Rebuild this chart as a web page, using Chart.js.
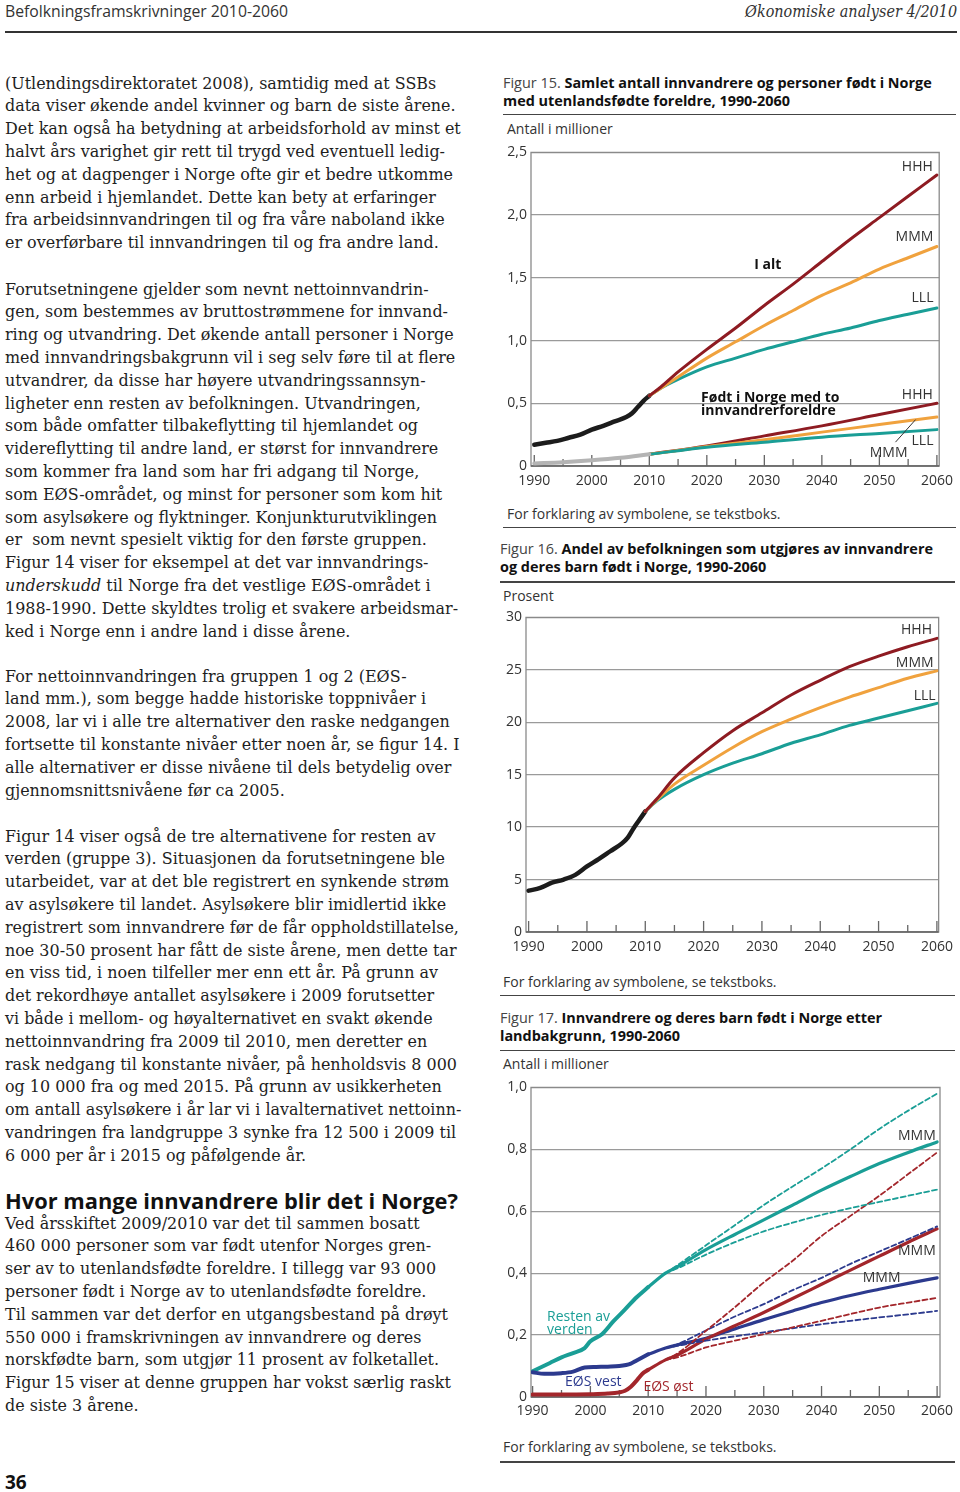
<!DOCTYPE html>
<html>
<head>
<meta charset="utf-8">
<script src="https://cdn.jsdelivr.net/npm/chart.js@4.4.1/dist/chart.umd.min.js"></script>
<style>
  body { margin: 0; width: 960px; height: 1492px; position: relative; background: #fff; overflow: hidden; }
  .t { position: absolute; white-space: nowrap; }
  .rule { position: absolute; background: #444; }
  canvas { position: absolute; }
  b { font-weight: bold; }
</style>
</head>
<body>
<canvas id="fig15" width="460" height="360" style="left:500px;top:140px"></canvas>
<canvas id="fig16" width="465" height="360" style="left:495px;top:605px"></canvas>
<canvas id="fig17" width="465" height="360" style="left:495px;top:1075px"></canvas>
<script>
// ---- Figur 15: antall i millioner ----
const f15HistYears = [1990, 1992, 1994, 1996, 1998, 2000, 2002, 2004, 2006, 2007, 2008, 2009, 2010];
const f15Total = [0.17, 0.185, 0.20, 0.225, 0.25, 0.29, 0.32, 0.355, 0.39, 0.42, 0.47, 0.52, 0.56];
const f15BornYears = [1990, 1995, 2000, 2005, 2010];
const f15Born = [0.02, 0.03, 0.045, 0.065, 0.093];
const f15ProjYears = [2010, 2012, 2015, 2020, 2025, 2030, 2035, 2040, 2045, 2050, 2055, 2060];
const f15TotalHHH = [0.56, 0.63, 0.75, 0.93, 1.10, 1.28, 1.45, 1.63, 1.81, 1.98, 2.15, 2.32];
const f15TotalMMM = [0.56, 0.62, 0.71, 0.86, 0.99, 1.12, 1.24, 1.36, 1.46, 1.57, 1.66, 1.75];
const f15TotalLLL = [0.56, 0.62, 0.69, 0.79, 0.86, 0.93, 0.99, 1.05, 1.10, 1.16, 1.21, 1.26];
const f15BornProjYears = [2010, 2020, 2030, 2040, 2050, 2060];
const f15BornHHH = [0.093, 0.16, 0.24, 0.32, 0.41, 0.50];
const f15BornMMM = [0.093, 0.155, 0.21, 0.27, 0.33, 0.39];
const f15BornLLL = [0.093, 0.15, 0.19, 0.23, 0.26, 0.29];
const f15Ticks = [0, 0.5, 1.0, 1.5, 2.0, 2.5];

// ---- Figur 16: prosent ----
const f16HistYears = [1990, 1992, 1994, 1996, 1998, 2000, 2002, 2004, 2006, 2007, 2008, 2009, 2010];
const f16Hist = [3.94, 4.2, 4.7, 5.0, 5.45, 6.25, 6.95, 7.7, 8.45, 9.0, 9.9, 10.7, 11.5];
const f16ProjYears = [2010, 2012, 2015, 2020, 2025, 2030, 2035, 2040, 2045, 2050, 2055, 2060];
const f16HHH = [11.5, 12.7, 14.7, 17.1, 19.2, 20.9, 22.6, 24.0, 25.3, 26.3, 27.2, 28.0];
const f16MMM = [11.5, 12.6, 14.1, 15.9, 17.6, 19.1, 20.3, 21.4, 22.4, 23.3, 24.2, 24.9];
const f16LLL = [11.5, 12.5, 13.6, 15.0, 16.1, 17.0, 18.0, 18.8, 19.7, 20.4, 21.1, 21.8];
const f16Ticks = [0, 5, 10, 15, 20, 25, 30];

// ---- Figur 17: antall i millioner etter landbakgrunn ----
const f17RestYears = [1990, 1993, 1995, 1997, 1999, 2000, 2002, 2004, 2006, 2008, 2010];
const f17Rest = [0.083, 0.11, 0.128, 0.142, 0.158, 0.18, 0.203, 0.245, 0.283, 0.322, 0.355];
const f17VestYears = [1990, 1992, 1995, 1997, 1999, 2001, 2003, 2005, 2007, 2008, 2010];
const f17Vest = [0.08, 0.075, 0.077, 0.082, 0.095, 0.097, 0.098, 0.10, 0.108, 0.118, 0.138];
const f17OstYears = [1990, 1995, 2000, 2003, 2005, 2006, 2007, 2008, 2009, 2010];
const f17Ost = [0.008, 0.008, 0.009, 0.011, 0.015, 0.02, 0.033, 0.053, 0.075, 0.088];
const f17MidYears = [2010, 2013, 2015, 2020, 2025, 2030, 2035, 2040, 2045, 2050, 2055, 2060];
const f17RestMMM = [0.355, 0.40, 0.42, 0.476, 0.525, 0.572, 0.62, 0.668, 0.712, 0.754, 0.79, 0.824];
const f17VestMMM = [0.138, 0.158, 0.168, 0.19, 0.22, 0.25, 0.278, 0.305, 0.328, 0.348, 0.367, 0.385];
const f17OstMMM = [0.088, 0.12, 0.135, 0.187, 0.23, 0.273, 0.318, 0.364, 0.41, 0.455, 0.50, 0.543];
const f17AltYears = [2013, 2015, 2020, 2025, 2030, 2035, 2040, 2045, 2050, 2055, 2060];
const f17RestHHH = [0.40, 0.425, 0.49, 0.555, 0.62, 0.68, 0.738, 0.80, 0.866, 0.925, 0.98];
const f17RestLLL = [0.40, 0.415, 0.46, 0.50, 0.535, 0.563, 0.588, 0.61, 0.63, 0.65, 0.67];
const f17VestHHH = [0.158, 0.17, 0.215, 0.26, 0.30, 0.345, 0.385, 0.43, 0.47, 0.51, 0.551];
const f17VestLLL = [0.158, 0.165, 0.182, 0.196, 0.209, 0.222, 0.235, 0.246, 0.257, 0.267, 0.278];
const f17OstHHH = [0.12, 0.14, 0.214, 0.29, 0.37, 0.44, 0.52, 0.585, 0.65, 0.72, 0.79];
const f17OstLLL = [0.12, 0.128, 0.16, 0.182, 0.203, 0.225, 0.246, 0.268, 0.289, 0.305, 0.32];
const f17Ticks = [0, 0.2, 0.4, 0.6, 0.8, 1.0];

const xYears = [1990, 2000, 2010, 2020, 2030, 2040, 2050, 2060];
const xMinorYears = [1995, 2005, 2015, 2025, 2035, 2045, 2055];

const RED = '#8e1b22', ORANGE = '#f0a23e', TEAL = '#1a9e96', BLACK = '#1c1c1c', GREY = '#b4b4b4';
const RED17 = '#a3262b', BLUE = '#2c3a8e';
const SANS = '"Open Sans", "Noto Sans", sans-serif';

Chart.defaults.font.family = SANS;
Chart.defaults.font.size = 14;
Chart.defaults.color = '#333';
Chart.defaults.devicePixelRatio = 1;

function xy(xs, ys) { return xs.map((x, i) => ({ x: x, y: ys[i] })); }
function line(xs, ys, color, width, dash) {
  return {
    data: xy(xs, ys), borderColor: color, borderWidth: width, borderDash: dash || [],
    pointRadius: 0, fill: false, cubicInterpolationMode: 'monotone', borderCapStyle: 'round'
  };
}
function comma(v, digits) { return v === 0 ? '0' : v.toFixed(digits).replace('.', ','); }

// box around plot area, and tick marks standing up from the x axis
const framePlugin = {
  id: 'frame',
  beforeDatasetsDraw(chart) {
    const { ctx, chartArea: a, scales: { x } } = chart;
    ctx.save();
    ctx.strokeStyle = '#8a8a8a';
    ctx.lineWidth = 1.3;
    ctx.strokeRect(a.left, a.top, a.right - a.left, a.bottom - a.top);
    ctx.strokeStyle = '#666';
    ctx.lineWidth = 1.3;
    ctx.beginPath();
    ctx.moveTo(a.left, a.bottom); ctx.lineTo(a.right, a.bottom);
    xYears.forEach(v => { const p = x.getPixelForValue(v); ctx.moveTo(p, a.bottom); ctx.lineTo(p, a.bottom - 11); });
    xMinorYears.forEach(v => { const p = x.getPixelForValue(v); ctx.moveTo(p, a.bottom); ctx.lineTo(p, a.bottom - 7); });
    ctx.stroke();
    ctx.restore();
  }
};

function notesPlugin(items, leaders) {
  return {
    id: 'notes',
    afterDatasetsDraw(chart) {
      const { ctx, scales: { x, y } } = chart;
      ctx.save();
      ctx.textBaseline = 'middle';
      items.forEach(n => {
        ctx.font = (n.bold ? 'bold ' : '') + '14px ' + SANS;
        ctx.fillStyle = n.color || '#333';
        ctx.textAlign = n.align || 'center';
        ctx.fillText(n.text, x.getPixelForValue(n.x), y.getPixelForValue(n.y));
      });
      (leaders || []).forEach(l => {
        ctx.strokeStyle = '#333'; ctx.lineWidth = 1;
        ctx.beginPath();
        ctx.moveTo(x.getPixelForValue(l[0]), y.getPixelForValue(l[1]));
        ctx.lineTo(x.getPixelForValue(l[2]), y.getPixelForValue(l[3]));
        ctx.stroke();
      });
      ctx.restore();
    }
  };
}

function makeChart(id, datasets, cfg) {
  return new Chart(document.getElementById(id), {
    type: 'line',
    data: { datasets: datasets },
    options: {
      responsive: false, animation: false, events: [],
      layout: { padding: { left: 0, top: cfg.padTop, right: cfg.padRight, bottom: 0 } },
      plugins: { legend: { display: false }, tooltip: { enabled: false } },
      scales: {
        x: {
          type: 'linear', min: cfg.xMin, max: cfg.xMax,
          grid: { display: false, drawTicks: false }, border: { display: false },
          afterBuildTicks: s => { s.ticks = xYears.map(v => ({ value: v })); },
          afterFit: s => { s.height = cfg.xHeight; },
          ticks: { padding: cfg.xPad, maxRotation: 0, autoSkip: false, callback: v => String(v) }
        },
        y: {
          min: cfg.yTicks[0], max: cfg.yTicks[cfg.yTicks.length - 1],
          grid: { color: '#9a9a9a', lineWidth: 1.3, drawTicks: false }, border: { display: false },
          afterBuildTicks: s => { s.ticks = cfg.yTicks.map(v => ({ value: v })); },
          afterFit: s => { s.width = cfg.yWidth; },
          ticks: { padding: 4, callback: cfg.yFmt }
        }
      }
    },
    plugins: [framePlugin, notesPlugin(cfg.notes, cfg.leaders)]
  });
}

makeChart('fig15', [
  line(f15BornYears, f15Born, GREY, 4),
  line(f15BornProjYears, f15BornLLL, TEAL, 3),
  line(f15BornProjYears, f15BornMMM, ORANGE, 3),
  line(f15BornProjYears, f15BornHHH, RED, 3),
  line(f15ProjYears, f15TotalHHH, RED, 3),
  line(f15ProjYears, f15TotalMMM, ORANGE, 3),
  line(f15ProjYears, f15TotalLLL, TEAL, 3),
  line(f15HistYears, f15Total, BLACK, 4.5)
], {
  padTop: 11, padRight: 17, xHeight: 34, xPad: 7, yWidth: 31,
  xMin: 1989.43, xMax: 2060.4, yTicks: f15Ticks, yFmt: v => comma(v, 1),
  notes: [
    { text: 'HHH', x: 2056.6, y: 2.38 },
    { text: 'MMM', x: 2056.1, y: 1.825 },
    { text: 'LLL', x: 2057.5, y: 1.34 },
    { text: 'I alt', x: 2030.6, y: 1.60, bold: true, color: '#111' },
    { text: 'Født i Norge med to', x: 2019.0, y: 0.54, bold: true, color: '#111', align: 'left' },
    { text: 'innvandrerforeldre', x: 2019.0, y: 0.437, bold: true, color: '#111', align: 'left' },
    { text: 'HHH', x: 2056.6, y: 0.563 },
    { text: 'LLL', x: 2057.5, y: 0.198 },
    { text: 'MMM', x: 2051.6, y: 0.103 }
  ],
  leaders: [[2052.8, 0.19, 2056.3, 0.37]]
});

makeChart('fig16', [
  line(f16ProjYears, f16HHH, RED, 3),
  line(f16ProjYears, f16MMM, ORANGE, 3),
  line(f16ProjYears, f16LLL, TEAL, 3),
  line(f16HistYears, f16Hist, BLACK, 4.5)
], {
  padTop: 12, padRight: 21, xHeight: 33, xPad: 7, yWidth: 31,
  xMin: 1989.55, xMax: 2060.3, yTicks: f16Ticks, yFmt: v => String(v),
  notes: [
    { text: 'HHH', x: 2056.5, y: 28.8 },
    { text: 'MMM', x: 2056.2, y: 25.65 },
    { text: 'LLL', x: 2057.9, y: 22.5 }
  ]
});

makeChart('fig17', [
  line(f17AltYears, f17RestHHH, TEAL, 1.8, [5, 3]),
  line(f17AltYears, f17RestLLL, TEAL, 1.8, [5, 3]),
  line(f17AltYears, f17OstHHH, RED17, 1.8, [5, 3]),
  line(f17AltYears, f17OstLLL, RED17, 1.8, [5, 3]),
  line(f17AltYears, f17VestHHH, BLUE, 1.8, [5, 3]),
  line(f17AltYears, f17VestLLL, BLUE, 1.8, [5, 3]),
  line(f17MidYears, f17OstMMM, RED17, 3.2),
  line(f17MidYears, f17VestMMM, BLUE, 3.2),
  line(f17MidYears, f17RestMMM, TEAL, 3.2),
  line(f17OstYears, f17Ost, RED17, 4),
  line(f17VestYears, f17Vest, BLUE, 4),
  line(f17RestYears, f17Rest, TEAL, 4)
], {
  padTop: 10, padRight: 20, xHeight: 38, xPad: 6, yWidth: 36,
  xMin: 1989.72, xMax: 2060.5, yTicks: f17Ticks, yFmt: v => comma(v, 1),
  notes: [
    { text: 'MMM', x: 2056.5, y: 0.843 },
    { text: 'MMM', x: 2056.5, y: 0.47 },
    { text: 'MMM', x: 2050.4, y: 0.384 },
    { text: 'Resten av', x: 1992.5, y: 0.258, color: TEAL, align: 'left' },
    { text: 'verden', x: 1992.5, y: 0.217, color: TEAL, align: 'left' },
    { text: 'EØS vest', x: 2000.5, y: 0.05, color: BLUE },
    { text: 'EØS øst', x: 2013.5, y: 0.032, color: RED17 }
  ]
});

// ---- page text ----
const mctx = document.createElement('canvas').getContext('2d');
function widthOf(font, s) { mctx.font = font; return mctx.measureText(s).width; }
function put(html, x, cy, font, lh, color) {
  const d = document.createElement('div');
  d.className = 't';
  d.innerHTML = html;
  d.style.left = x + 'px';
  d.style.top = (cy - lh / 2) + 'px';
  d.style.font = font;
  d.style.lineHeight = lh + 'px';
  d.style.color = color || '#222';
  document.body.appendChild(d);
  return d;
}
function rule(x, y, w, h, color) {
  const d = document.createElement('div');
  d.className = 'rule';
  Object.assign(d.style, { left: x + 'px', top: y + 'px', width: w + 'px', height: h + 'px', background: color || '#444' });
  document.body.appendChild(d);
}
function squeeze(el, w, fromRight) {
  const k = w / el.getBoundingClientRect().width;
  el.style.transformOrigin = fromRight ? 'right center' : 'left center';
  el.style.transform = 'scaleX(' + k + ')';
}

// header
const hl = put('Befolkningsframskrivninger 2010-2060', 5, 11, '16px ' + SANS, 20, '#333');
squeeze(hl, 283);
const hr = put('Økonomiske analyser 4/2010', 0, 11, 'italic 17px "DejaVu Serif"', 20, '#333');
hr.style.left = 'auto'; hr.style.right = '3px';
squeeze(hr, 212, true);
rule(5, 31, 952, 2, '#333');

// body column
const SERIF = '"DejaVu Serif", serif';
const bodySize = 16 * 452 / widthOf('16px ' + SERIF, 'rask nedgang til konstante nivåer, på henholdsvis 8 000');
const bodyFont = bodySize.toFixed(2) + 'px ' + SERIF;
const LH = 22.8;
const paragraphs = [
  [84, [
    '(Utlendingsdirektoratet 2008), samtidig med at SSBs',
    'data viser økende andel kvinner og barn de siste årene.',
    'Det kan også ha betydning at arbeidsforhold av minst et',
    'halvt års varighet gir rett til trygd ved eventuell ledig-',
    'het og at dagpenger i Norge ofte gir et bedre utkomme',
    'enn arbeid i hjemlandet. Dette kan bety at erfaringer',
    'fra arbeidsinnvandringen til og fra våre naboland ikke',
    'er overførbare til innvandringen til og fra andre land.']],
  [290, [
    'Forutsetningene gjelder som nevnt nettoinnvandrin-',
    'gen, som bestemmes av bruttostrømmene for innvand-',
    'ring og utvandring. Det økende antall personer i Norge',
    'med innvandringsbakgrunn vil i seg selv føre til at flere',
    'utvandrer, da disse har høyere utvandringssannsyn-',
    'ligheter enn resten av befolkningen. Utvandringen,',
    'som både omfatter tilbakeflytting til hjemlandet og',
    'videreflytting til andre land, er størst for innvandrere',
    'som kommer fra land som har fri adgang til Norge,',
    'som EØS-området, og minst for personer som kom hit',
    'som asylsøkere og flyktninger. Konjunkturutviklingen',
    'er &nbsp;som nevnt spesielt viktig for den første gruppen.',
    'Figur 14 viser for eksempel at det var innvandrings-',
    '<i>underskudd</i> til Norge fra det vestlige EØS-området i',
    '1988-1990. Dette skyldtes trolig et svakere arbeidsmar-',
    'ked i Norge enn i andre land i disse årene.']],
  [677, [
    'For nettoinnvandringen fra gruppen 1 og 2 (EØS-',
    'land mm.), som begge hadde historiske toppnivåer i',
    '2008, lar vi i alle tre alternativer den raske nedgangen',
    'fortsette til konstante nivåer etter noen år, se figur 14. I',
    'alle alternativer er disse nivåene til dels betydelig over',
    'gjennomsnittsnivåene før ca 2005.']],
  [837, [
    'Figur 14 viser også de tre alternativene for resten av',
    'verden (gruppe 3). Situasjonen da forutsetningene ble',
    'utarbeidet, var at det ble registrert en synkende strøm',
    'av asylsøkere til landet. Asylsøkere blir imidlertid ikke',
    'registrert som innvandrere før de får oppholdstillatelse,',
    'noe 30-50 prosent har fått de siste årene, men dette tar',
    'en viss tid, i noen tilfeller mer enn ett år. På grunn av',
    'det rekordhøye antallet asylsøkere i 2009 forutsetter',
    'vi både i mellom- og høyalternativet en svakt økende',
    'nettoinnvandring fra 2009 til 2010, men deretter en',
    'rask nedgang til konstante nivåer, på henholdsvis 8 000',
    'og 10 000 fra og med 2015. På grunn av usikkerheten',
    'om antall asylsøkere i år lar vi i lavalternativet nettoinn-',
    'vandringen fra landgruppe 3 synke fra 12 500 i 2009 til',
    '6 000 per år i 2015 og påfølgende år.']],
  [1224, [
    'Ved årsskiftet 2009/2010 var det til sammen bosatt',
    '460 000 personer som var født utenfor Norges gren-',
    'ser av to utenlandsfødte foreldre. I tillegg var 93 000',
    'personer født i Norge av to utenlandsfødte foreldre.',
    'Til sammen var det derfor en utgangsbestand på drøyt',
    '550 000 i framskrivningen av innvandrere og deres',
    'norskfødte barn, som utgjør 11 prosent av folketallet.',
    'Figur 15 viser at denne gruppen har vokst særlig raskt',
    'de siste 3 årene.']]
];
paragraphs.forEach(([cy, lines]) => put(lines.join('<br>'), 5, cy, bodyFont, LH, '#1e1e1e'));

const headText = 'Hvor mange innvandrere blir det i Norge?';
const headSize = 20 * 453 / widthOf('bold 20px ' + SANS, headText);
put(headText, 5, 1201, 'bold ' + headSize.toFixed(2) + 'px ' + SANS, 24, '#111');
put('36', 5, 1482, 'bold 19px ' + SANS, 22, '#111');

// figure captions
const capRef = widthOf('14px ' + SANS, 'Figur 15. ') + widthOf('bold 14px ' + SANS, 'Samlet antall innvandrere og personer født i Norge');
const capSize = (14 * 429 / capRef).toFixed(2) + 'px ' + SANS;
function caption(x, cy, num, l1, l2) {
  put('<span style="color:#444">Figur ' + num + '. </span><b>' + l1 + '</b><br><b>' + l2 + '</b>', x, cy, capSize, 18.5, '#111');
}
caption(503, 83, 15, 'Samlet antall innvandrere og personer født i Norge', 'med utenlandsfødte foreldre, 1990-2060');
rule(503, 113.5, 453, 1.5);
put('Antall i millioner', 507, 129, '14px ' + SANS, 18, '#333');
put('For forklaring av symbolene, se tekstboks.', 507, 514, '14px ' + SANS, 18, '#333');
rule(503, 526.5, 453, 1.5);

caption(500, 549, 16, 'Andel av befolkningen som utgjøres av innvandrere', 'og deres barn født i Norge, 1990-2060');
rule(500, 581, 455, 1.5);
put('Prosent', 503, 596, '14px ' + SANS, 18, '#333');
put('For forklaring av symbolene, se tekstboks.', 503, 982, '14px ' + SANS, 18, '#333');
rule(500, 994.5, 455, 1.5);

caption(500, 1018, 17, 'Innvandrere og deres barn født i Norge etter', 'landbakgrunn, 1990-2060');
rule(500, 1049.5, 455, 1.5);
put('Antall i millioner', 503, 1064, '14px ' + SANS, 18, '#333');
put('For forklaring av symbolene, se tekstboks.', 503, 1447, '14px ' + SANS, 18, '#333');
rule(500, 1461, 455, 1.5);
</script>
</body>
</html>
